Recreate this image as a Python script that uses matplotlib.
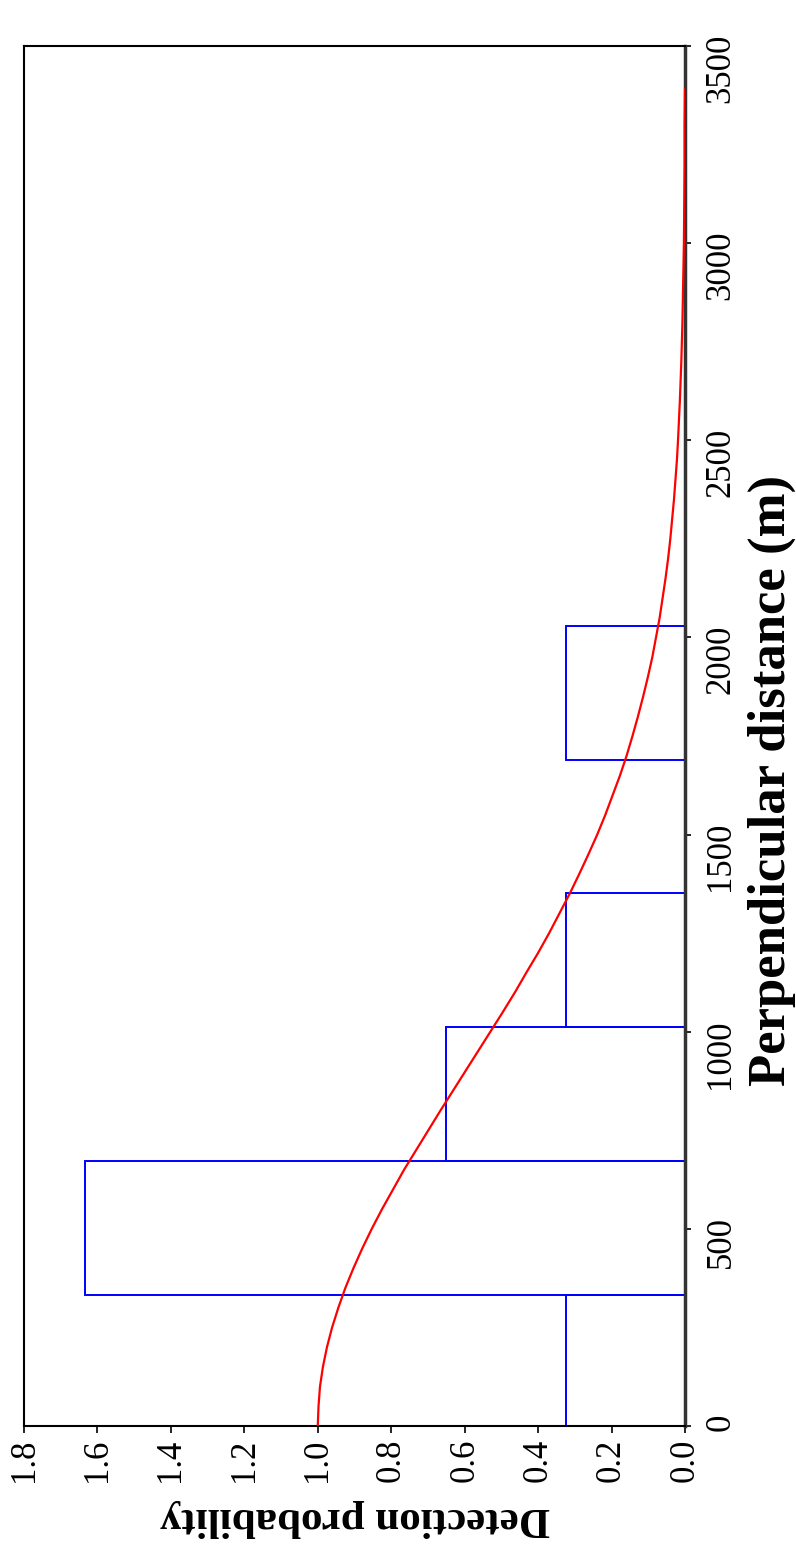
import matplotlib.pyplot as plt
import numpy as np

plt.rcParams['font.family'] = ['Liberation Serif', 'DejaVu Serif']

# histogram of scaled counts per distance band (m)
bin_edges = [0, 332, 672, 1012, 1352, 1690, 2030, 2860]
bin_heights = [0.325, 1.634, 0.651, 0.325, 0.0, 0.325, 0.0]

# fitted detection function
curve_dist = [0, 50, 100, 150, 200, 250, 300, 350, 400, 450, 500, 550, 600, 650,
              700, 750, 800, 850, 900, 950, 1000, 1050, 1100, 1150, 1200, 1250,
              1300, 1350, 1400, 1450, 1500, 1550, 1600, 1650, 1700, 1750, 1800,
              1850, 1900, 1950, 2000, 2050, 2100, 2150, 2200, 2250, 2300, 2350,
              2400, 2450, 2500, 2600, 2700, 2800, 2900, 3000, 3100, 3200, 3300, 3390]
curve_prob = [1.0, 0.998, 0.994, 0.986, 0.975, 0.961, 0.944, 0.925, 0.903, 0.879,
              0.853, 0.825, 0.795, 0.765, 0.732, 0.699, 0.666, 0.632, 0.598, 0.564,
              0.530, 0.496, 0.463, 0.432, 0.400, 0.370, 0.342, 0.314, 0.288, 0.263,
              0.239, 0.217, 0.197, 0.177, 0.159, 0.143, 0.128, 0.114, 0.101, 0.089,
              0.079, 0.069, 0.061, 0.053, 0.046, 0.040, 0.035, 0.030, 0.026, 0.022,
              0.019, 0.014, 0.010, 0.007, 0.005, 0.003, 0.002, 0.001, 0.001, 0.0]

prob_ticks = [0.0, 0.2, 0.4, 0.6, 0.8, 1.0, 1.2, 1.4, 1.6, 1.8]
dist_ticks = [0, 500, 1000, 1500, 2000, 2500, 3000, 3500]

fig = plt.figure(figsize=(7.96, 15.54), dpi=100)
ax = fig.add_axes([24 / 796, 1 - 1426 / 1554, 661 / 796, 1380 / 1554])

ax.barh(bin_edges[:-1], bin_heights, height=np.diff(bin_edges), align='edge',
        fill=False, edgecolor='#0000ff', linewidth=1.4)
ax.plot(curve_prob, curve_dist, color='#ff0000', linewidth=1.6, zorder=3)

ax.set_xlim(1.8, 0)
ax.set_ylim(0, 3500)
ax.set_xticks(prob_ticks)
ax.set_xticklabels(['%.1f' % t for t in prob_ticks])
ax.set_yticks(dist_ticks)
ax.set_yticklabels([str(t) for t in dist_ticks])

ax.yaxis.tick_right()
ax.yaxis.set_label_position('right')
ax.tick_params(axis='x', direction='out', length=5, width=1.2, labelsize=25,
               labelrotation=90, pad=4)
ax.tick_params(axis='y', direction='out', length=4, width=1.2, labelsize=25,
               labelrotation=90, pad=10)

for side in ['top', 'left', 'bottom']:
    ax.spines[side].set_linewidth(1.5)
ax.spines['right'].set_linewidth(2.5)
ax.spines['right'].set_color('#333333')

ax.set_ylabel('Perpendicular distance (m)', fontsize=38, fontweight='bold',
              rotation=90)
ax.yaxis.set_label_coords(1.095, 0.468)
ax.set_xlabel('Detection probability', fontsize=31, fontweight='bold',
              rotation=180, labelpad=12)

fig.savefig('out.png', dpi=100)
